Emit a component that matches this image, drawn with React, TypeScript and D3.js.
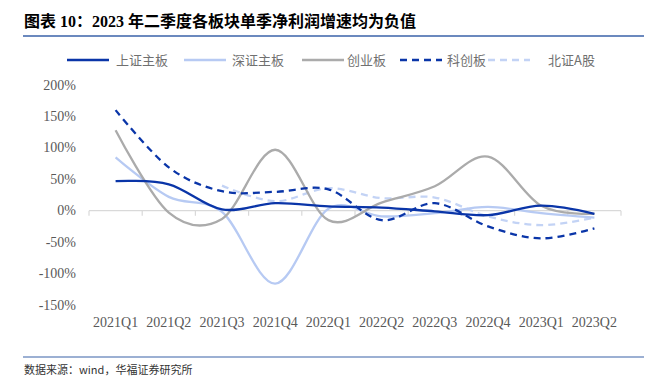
import React from "react";
import * as d3 from "d3";

const categories = ["2021Q1","2021Q2","2021Q3","2021Q4","2022Q1","2022Q2","2022Q3","2022Q4","2023Q1","2023Q2"];
const shMain = [47, 42, 2, 12, 7, 5, -1, -7, 8, -5];
const szMain = [85, 22, -2, -116, 3, -9, -4, 6, -4, -11];
const chiNext = [128, -3, -13, 97, -15, 13, 39, 86, 8, -5];
const star = [160, 69, 31, 30, 34, -15, 12, -25, -44, -28];
const bse: (number | null)[] = [null, null, 40, 15, 36, 20, 21, -9, -23, -11];
const yTicks = [200, 150, 100, 50, 0, -50, -100, -150];

const seriesNames = ["上证主板", "深证主板", "创业板", "科创板", "北证A股"];

const W = 659, H = 381;

export default function App() {
  const x = d3.scaleBand<string>().domain(categories).range([89, 621]);
  const y = d3.scaleLinear().domain([-150, 200]).range([305, 85]);
  const cx = (c: string) => (x(c) as number) + x.bandwidth() / 2;

  const line = d3.line<number | null>()
    .defined((d) => d !== null)
    .x((_, i) => cx(categories[i]))
    .y((d) => y(d as number))
    .curve(d3.curveCardinal.tension(0));

  const series = [
    { name: seriesNames[0], data: shMain, color: "#0A35A8", dash: "", lx: 67, tx: 116 },
    { name: seriesNames[1], data: szMain, color: "#B7CAF3", dash: "", lx: 184, tx: 232 },
    { name: seriesNames[2], data: chiNext, color: "#ABABAB", dash: "", lx: 302, tx: 347 },
    { name: seriesNames[3], data: star, color: "#0A35A8", dash: "7,5", lx: 400, tx: 447 },
    { name: seriesNames[4], data: bse, color: "#C3D3F5", dash: "7,5", lx: 488, tx: 548 },
  ];
  const drawOrder = [4, 1, 2, 3, 0];

  const font = "Liberation Serif";
  const cjk = "Noto Sans CJK SC";

  const boundaries = categories.map((c) => x(c) as number).concat([621]);

  return (
    <svg width={W} height={H} style={{ position: "absolute", left: 0, top: 0, background: "#fff" }}>
      <text x={24} y={27} fontFamily={"Liberation Serif, Noto Sans CJK SC"} fontWeight="bold" fontSize={16} fill="#000">
        图表 10：2023 年二季度各板块单季净利润增速均为负值
      </text>
      <line x1={23} x2={644} y1={36} y2={36} stroke="#3A62A8" strokeWidth={1.5} />

      {series.map((s) => (
        <g key={s.name}>
          <line x1={s.lx} x2={s.lx + 42} y1={60} y2={60} stroke={s.color} strokeWidth={2.5} strokeDasharray={s.dash} />
          <text x={s.tx} y={64.5} fontFamily={cjk} fontSize={13} fill="#707070">{s.name}</text>
        </g>
      ))}

      {yTicks.map((t) => (
        <text key={t} x={76} y={y(t) + 4.5} textAnchor="end" fontFamily={font} fontSize={14} fill="#595959">
          {t}%
        </text>
      ))}

      <line x1={89} x2={621} y1={y(0)} y2={y(0)} stroke="#D9D9D9" strokeWidth={1.2} />
      {boundaries.map((b, i) => (
        <line key={i} x1={b} x2={b} y1={y(0)} y2={y(0) + 5} stroke="#D9D9D9" strokeWidth={1.2} />
      ))}

      {categories.map((c) => (
        <text key={c} x={cx(c)} y={327} textAnchor="middle" fontFamily={font} fontSize={14} fill="#595959">
          {c}
        </text>
      ))}

      {drawOrder.map((i) => {
        const s = series[i];
        return (
          <path key={s.name} d={line(s.data) || ""} fill="none" stroke={s.color} strokeWidth={2.3}
            strokeDasharray={s.dash} strokeLinecap="butt" />
        );
      })}

      <line x1={23} x2={644} y1={357} y2={357} stroke="#3A62A8" strokeWidth={1.2} />
      <text x={24} y={374} fontFamily={cjk} fontSize={11} fill="#333">数据来源：wind，华福证券研究所</text>
    </svg>
  );
}
